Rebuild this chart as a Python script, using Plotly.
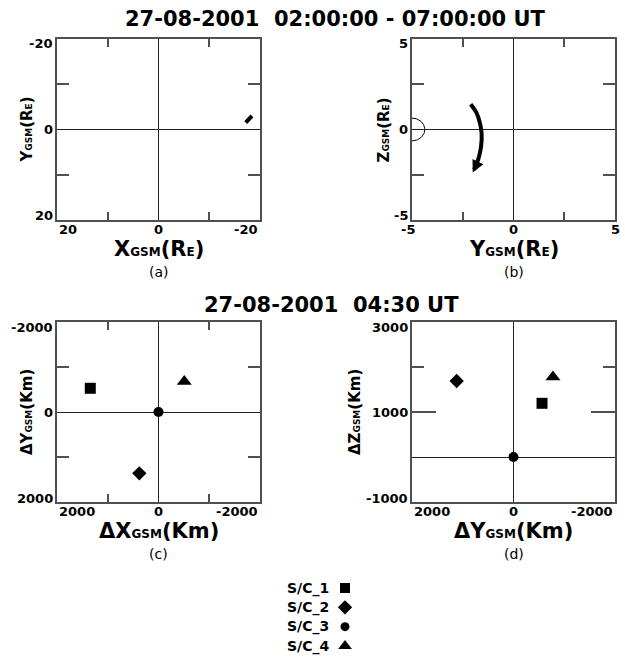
import numpy as np
import plotly.graph_objects as go

# ---------------- data ----------------
TITLE_TOP = "27-08-2001  02:00:00 - 07:00:00 UT"
TITLE_BOTTOM = "27-08-2001  04:30 UT"

# (a) orbit segment in X-Y GSM plane (Re)
ORBIT_X = [-17.2, -18.4]
ORBIT_Y = [-1.5, -3.0]

# (b) orbit arc in Y-Z GSM plane (Re)
ARC_Y = [-2.11, -1.81, -1.65, -1.57, -1.60, -1.70, -1.85, -2.01]
ARC_Z = [1.39, 0.89, 0.34, -0.21, -0.95, -1.50, -2.00, -2.37]
EARTH_CENTER_Y = -5.0
EARTH_CENTER_Z = 0.0
EARTH_R = 0.63

# spacecraft
SC_NAMES = ["S/C_1", "S/C_2", "S/C_3", "S/C_4"]
SC_SYMBOLS = ["square", "diamond", "circle", "triangle-up"]
SC_SIZES = [11, 11, 10, 13]
LEG_SIZES = [10, 11, 9, 12]

# (c) separations in X-Y (km)
DX_C = [1344, 378, 0, -508]
DY_C = [-527, 1362, 0, -676]
# (d) separations in Y-Z (km)
DY_D = [-562, 1120, 0, -778]
DZ_D = [1193, 1689, 0, 1778]

# ticks
TICKS_A = [-20, 0, 20]
MINOR_A = [-10, 10]
TICKS_B = [-5, 0, 5]
MINOR_B = [-2.5, 2.5]
TICKS_C = [-2000, 0, 2000]
MINOR_C = [-1000, 1000]
TICKS_DX = [-2000, 0, 2000]
TICKS_DZ = [-1000, 1000, 3000]
MINOR_DZ = [2000]

# ---------------- layout helpers ----------------
W, H = 625, 657
def fx(p):
    return p / W
def fy(p):
    return 1 - p / H

PANELS = {
    "a": (57, 260, 39, 220),
    "b": (412, 615, 39, 220),
    "c": (57, 260, 322, 502),
    "d": (412, 615, 322, 502),
}
EDGE_ALIGN = {"a": True, "b": False, "c": True, "d": True}

FRAME = "#505050"
TICKFONT = dict(family="DejaVu Sans", size=13, color="black", weight="bold")

fig = go.Figure()

# (a)
fig.add_trace(go.Scatter(x=ORBIT_X, y=ORBIT_Y, mode="lines",
                         line=dict(color="black", width=4),
                         xaxis="x", yaxis="y", showlegend=False))
# (b) earth
theta = np.linspace(-np.pi / 2, np.pi / 2, 60)
fig.add_trace(go.Scatter(x=EARTH_CENTER_Y + EARTH_R * np.cos(theta),
                         y=EARTH_CENTER_Z + EARTH_R * np.sin(theta),
                         mode="lines", line=dict(color="black", width=1),
                         xaxis="x2", yaxis="y2", showlegend=False))
# (b) arc
fig.add_trace(go.Scatter(x=ARC_Y[:-1], y=ARC_Z[:-1], mode="lines",
                         line=dict(color="black", width=4, shape="spline"),
                         xaxis="x2", yaxis="y2", showlegend=False))
# (c), (d) spacecraft + legend symbols
for i in range(4):
    fig.add_trace(go.Scatter(x=[DX_C[i]], y=[DY_C[i]], mode="markers",
                             marker=dict(symbol=SC_SYMBOLS[i], size=SC_SIZES[i], color="#000000"),
                             xaxis="x3", yaxis="y3", showlegend=False, name=SC_NAMES[i]))
    fig.add_trace(go.Scatter(x=[DY_D[i]], y=[DZ_D[i]], mode="markers",
                             marker=dict(symbol=SC_SYMBOLS[i], size=SC_SIZES[i], color="#000000"),
                             xaxis="x4", yaxis="y4", showlegend=False, name=SC_NAMES[i]))
    fig.add_trace(go.Scatter(x=[345], y=[i], mode="markers",
                             marker=dict(symbol=SC_SYMBOLS[i], size=LEG_SIZES[i], color="#000000",
                                         opacity=1),
                             xaxis="x5", yaxis="y5", showlegend=False, name=SC_NAMES[i]))


def axis(domain, rng, tickvals, minor_vals, ticklen, minor_len, anchor):
    d = dict(domain=domain, range=rng, tickmode="array", tickvals=tickvals,
             showticklabels=False, ticks="inside", ticklen=ticklen,
             tickcolor=FRAME, tickwidth=1.5, automargin=False,
             showline=True, linecolor=FRAME, linewidth=1.5, mirror="ticks",
             showgrid=False, zeroline=True, zerolinecolor="#222222", zerolinewidth=1,
             anchor=anchor, fixedrange=True)
    if minor_vals:
        d["minor"] = dict(tickmode="array", tickvals=minor_vals, ticks="inside",
                          ticklen=minor_len, tickcolor=FRAME, tickwidth=1.5)
    return d

lay = {}
AXES = {}
specs = [
    ("a", "", [20, -20], [20, -20], TICKS_A, MINOR_A, TICKS_A, MINOR_A, 8, 12),
    ("b", "2", [-5, 5], [-5, 5], TICKS_B, MINOR_B, TICKS_B, MINOR_B, 8, 12),
    ("c", "3", [2000, -2000], [2000, -2000], TICKS_C, MINOR_C, TICKS_C, MINOR_C, 8, 12),
]
for key, s, xr, yr, xt, xm, yt, ym, xl, yl in specs:
    x0, x1, y0, y1 = PANELS[key]
    lay["xaxis" + s] = axis([fx(x0), fx(x1)], xr, xt, xm, 0.5, xl, "y" + s)
    lay["yaxis" + s] = axis([fy(y1), fy(y0)], yr, yt, ym, 0.5, yl, "x" + s)
    AXES[key] = ("x" + s, "y" + s, xr, yr, xt, yt)

x0, x1, y0, y1 = PANELS["d"]
lay["xaxis4"] = axis([fx(x0), fx(x1)], [2000, -2000], TICKS_DX, None, 0.5, 0, "y4")
lay["yaxis4"] = axis([fy(y1), fy(y0)], [-1000, 3000], TICKS_DZ, MINOR_DZ, 24, 12, "x4")
AXES["d"] = ("x4", "y4", [2000, -2000], [-1000, 3000], TICKS_DX, TICKS_DZ)

lay["xaxis5"] = dict(domain=[fx(280), fx(360)], range=[280, 360], visible=False,
                     anchor="y5", fixedrange=True, automargin=False)
lay["yaxis5"] = dict(domain=[fy(656), fy(578)], range=[3.517, -0.517], visible=False,
                     anchor="x5", fixedrange=True, automargin=False)

fig.update_layout(**lay)

ann = []
TITLE_FONT = dict(family="DejaVu Sans", size=21, color="black", weight="bold")
ann.append(dict(text=TITLE_TOP, x=fx(335.5), y=fy(19), xref="paper", yref="paper",
                showarrow=False, font=TITLE_FONT, xanchor="center", yanchor="middle"))
ann.append(dict(text=TITLE_BOTTOM, x=fx(331.5), y=fy(305), xref="paper", yref="paper",
                showarrow=False, font=TITLE_FONT, xanchor="center", yanchor="middle"))

# tick labels (placed through the axes' own scales)
for key, (xid, yid, xr, yr, xt, yt) in AXES.items():
    for v in xt:
        if EDGE_ALIGN[key]:
            anchor = "left" if v == xr[0] else ("right" if v == xr[1] else "center")
        else:
            anchor = "center"
        ann.append(dict(text=str(v), x=v, y=0, xref=xid, yref=yid + " domain",
                        showarrow=False, xanchor=anchor, yanchor="top", yshift=0,
                        xshift=(-4 if (not EDGE_ALIGN[key] and v == xr[0]) else 0),
                        font=TICKFONT))
    for v in yt:
        shift = 4 if v == yr[0] else (-5 if v == yr[1] else 0)
        ann.append(dict(text=str(v), x=0, y=v, xref=xid + " domain", yref=yid,
                        showarrow=False, xanchor="right", yanchor="middle",
                        xshift=-2, yshift=shift, font=TICKFONT))

# arrow head at end of the arc in (b)
ann.append(dict(x=ARC_Y[-1], y=ARC_Z[-1], ax=ARC_Y[-2], ay=ARC_Z[-2],
                xref="x2", yref="y2", axref="x2", ayref="y2", text="",
                showarrow=True, arrowhead=2, arrowsize=0.6, arrowwidth=4,
                arrowcolor="black", standoff=0, startstandoff=0))

def lbl(parts, ss):
    out = ""
    for txt, small in parts:
        if small:
            out += "<span style='font-size:%dpx'>%s</span>" % (ss, txt)
        else:
            out += txt
    return out

XT = {
    "a": [("X", False), ("GSM", True), ("(R", False), ("E", True), (")", False)],
    "b": [("Y", False), ("GSM", True), ("(R", False), ("E", True), (")", False)],
    "c": [("ΔX", False), ("GSM", True), ("(Km)", False)],
    "d": [("ΔY", False), ("GSM", True), ("(Km)", False)],
}
YT = {
    "a": [("Y", False), ("GSM", True), ("(R", False), ("E", True), (")", False)],
    "b": [("Z", False), ("GSM", True), ("(R", False), ("E", True), (")", False)],
    "c": [("ΔY", False), ("GSM", True), ("(Km)", False)],
    "d": [("ΔZ", False), ("GSM", True), ("(Km)", False)],
}
YT_X = {"a": 27, "b": 384, "c": 27, "d": 355}

for key in "abcd":
    x0, x1, y0, y1 = PANELS[key]
    xc = (x0 + x1) / 2
    ann.append(dict(text=lbl(XT[key], 12), x=fx(xc), y=fy(y1 + 29),
                    xref="paper", yref="paper", showarrow=False,
                    font=dict(family="DejaVu Sans", size=21, color="black", weight="bold"),
                    xanchor="center", yanchor="middle"))
    ann.append(dict(text="(%s)" % key, x=fx(xc), y=fy(y1 + 52),
                    xref="paper", yref="paper", showarrow=False,
                    font=dict(family="DejaVu Sans", size=14, color="black"),
                    xanchor="center", yanchor="middle"))
    ann.append(dict(text=lbl(YT[key], 9), x=fx(YT_X[key]), y=fy((y0 + y1) / 2),
                    xref="paper", yref="paper", showarrow=False, textangle=-90,
                    font=dict(family="DejaVu Sans", size=15, color="black", weight="bold"),
                    xanchor="center", yanchor="middle"))

for i, name in enumerate(SC_NAMES):
    ann.append(dict(text=name, x=331, y=i, xref="x5", yref="y5", showarrow=False,
                    xanchor="right", yanchor="middle",
                    font=dict(family="DejaVu Sans", size=14, color="black", weight="bold")))

fig.update_layout(annotations=ann, width=W, height=H,
                  margin=dict(l=0, r=0, t=0, b=0, autoexpand=False),
                  paper_bgcolor="white", plot_bgcolor="white", showlegend=False)

fig.write_html("out.html", config={"displayModeBar": False})
